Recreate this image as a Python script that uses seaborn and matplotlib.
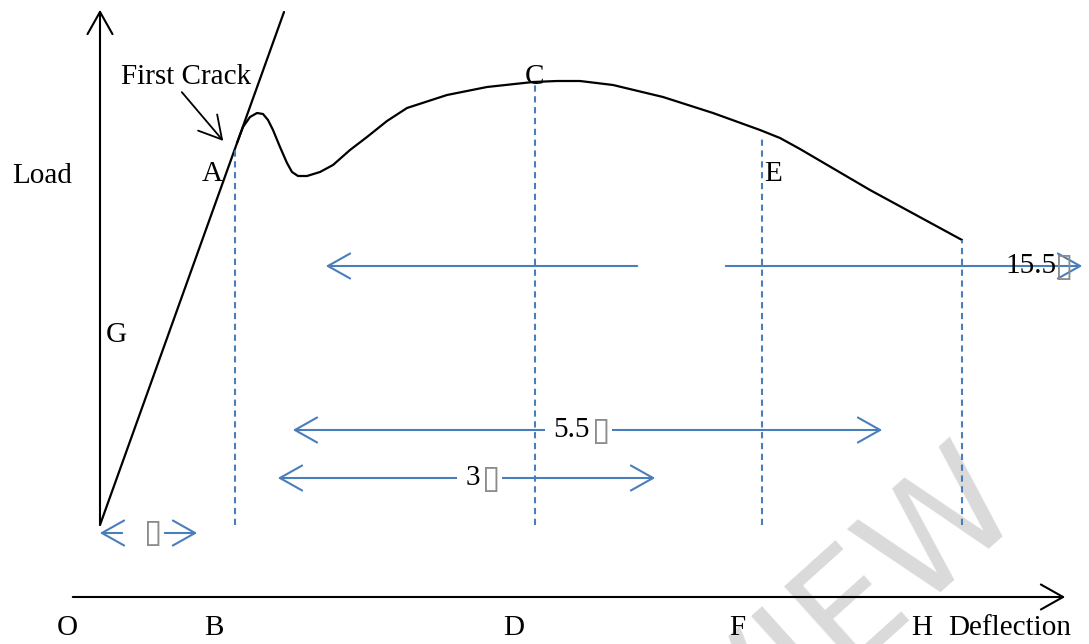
import matplotlib
matplotlib.use("Agg")
import matplotlib.pyplot as plt
import seaborn as sns
import numpy as np

# load-deflection schematic (deflection measured from O, load from the start of the curve)
elastic_d = [0, 184]
elastic_L = [0, 513]

curve_d = [137, 143, 150, 157, 163, 168, 173, 180, 187, 192, 198, 207, 220, 233, 250,
           267, 287, 307, 347, 387, 433, 457, 480, 513, 563, 613, 660, 680, 700, 770, 862]
curve_L = [382, 398, 408, 412, 411, 405, 395, 378, 362, 353, 349, 349, 353, 360, 375,
           388, 404, 417, 430, 438, 443, 444, 444, 440, 428, 412, 395, 387, 376, 335, 285]

# dashed drop lines at A, C, E and the end of the curve
drop_d = [135, 435, 662, 862]
drop_L = [375, 443, 390, 285]

point_names = ["A", "C", "E", "G"]
point_pos = [(112, 351), (435, 448), (673, 351), (16, 190)]
axis_names = ["O", "B", "D", "F", "H"]
axis_pos = [-33, 114, 414, 637, 822]

blue = "#4a7ebb"
box_grey = "#8c8c8c"
box = "\u25af"

sns.set_theme(style="white")
plt.rcParams["font.family"] = ["Liberation Serif", "DejaVu Sans"]
plt.rcParams["text.color"] = "black"

fig = plt.figure(figsize=(10.89, 6.44), dpi=100)
ax = fig.add_axes([0, 0, 1, 1])
ax.set_xlim(-100, 989)
ax.set_ylim(-119, 525)
ax.axis("off")

# watermark
ax.text(928, 12, "VIEW", fontsize=108, color="#dadada", family="DejaVu Sans",
        rotation=42, rotation_mode="anchor", ha="right", va="baseline", zorder=0)

head = "->,head_length=0.8,head_width=0.45"
dhead = "<->,head_length=0.8,head_width=0.45"

# axes arrows
ax.annotate("", xy=(0, 518), xytext=(0, -2),
            arrowprops=dict(arrowstyle=head, color="black", lw=1.5, mutation_scale=20))
ax.annotate("", xy=(968, -72), xytext=(-30, -72),
            arrowprops=dict(arrowstyle=head, color="black", lw=1.5, mutation_scale=20))

sns.lineplot(x=elastic_d, y=elastic_L, ax=ax, color="black", lw=1.6)
sns.lineplot(x=curve_d, y=curve_L, ax=ax, color="black", lw=1.6, sort=False, estimator=None)

ax.vlines(drop_d, 0, drop_L, colors=blue, linestyles=(0, (3, 2.2)), lw=1.5)

arrow_kw = dict(color=blue, lw=1.5, mutation_scale=20)

# upper pair of arrows
ax.annotate("", xy=(223, 259), xytext=(540, 259), arrowprops=dict(arrowstyle=head, **arrow_kw))
ax.annotate("", xy=(985, 259), xytext=(623, 259), arrowprops=dict(arrowstyle=head, **arrow_kw))
ax.text(905, 259, "15.5", fontsize=21, va="center", ha="left")
ax.text(955, 259, box, fontsize=24, va="center", ha="left", color=box_grey, family="DejaVu Sans")

# double arrows with labels, broken by the text
spans = [(190, 785, 95, "5.5", 490), (175, 558, 47, "3", 380)]
for x0, x1, lvl, num, xc in spans:
    ax.annotate("", xy=(x0, lvl), xytext=(x1, lvl), arrowprops=dict(arrowstyle=dhead, **arrow_kw))
    ax.text(xc, lvl, num, fontsize=21, va="center", ha="right",
            bbox=dict(fc="white", ec="none", pad=6))
    ax.text(xc + 2, lvl, box, fontsize=24, va="center", ha="left", color=box_grey,
            family="DejaVu Sans", bbox=dict(fc="white", ec="none", pad=1))

# small span O-B
ax.annotate("", xy=(-3, -8), xytext=(25, -8), arrowprops=dict(arrowstyle=head, **arrow_kw))
ax.annotate("", xy=(100, -8), xytext=(62, -8), arrowprops=dict(arrowstyle=head, **arrow_kw))
ax.text(44, -8, box, fontsize=24, va="center", ha="left", color=box_grey, family="DejaVu Sans")

# first crack label
ax.text(21, 448, "First Crack", fontsize=21, va="center", ha="left")
ax.annotate("", xy=(125, 382), xytext=(80, 435),
            arrowprops=dict(arrowstyle=head, color="black", lw=1.3, mutation_scale=20))

for name, (px, py) in zip(point_names, point_pos):
    ax.text(px, py, name, fontsize=21, ha="center", va="center")

ax.text(-88, 349, "Load", fontsize=21, ha="left", va="center")
for name, px in zip(axis_names, axis_pos):
    ax.text(px, -103, name, fontsize=21, ha="center", va="center")
ax.text(848, -103, "Deflection", fontsize=21, ha="left", va="center")

fig.savefig("out.png", dpi=100)
